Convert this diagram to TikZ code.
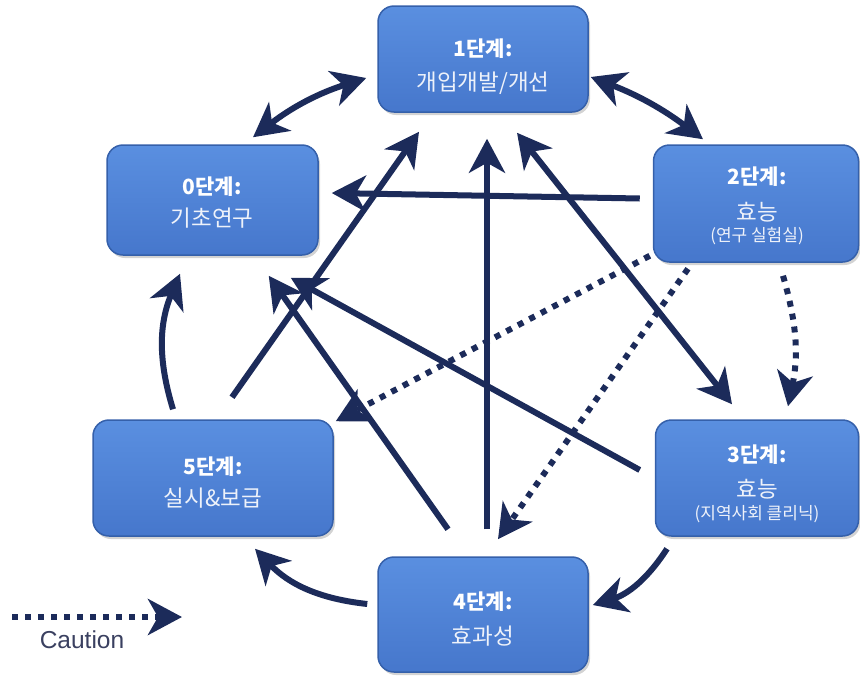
\documentclass[tikz,border=0pt]{standalone}
\usepackage{fontspec}
\newfontfamily\kr{Noto Sans CJK KR}
\newfontfamily\lsans{Liberation Sans}
\usetikzlibrary{arrows.meta,calc,shadows}
\definecolor{navy}{HTML}{1C2B5A}
\definecolor{boxfill}{HTML}{4677CC}
\definecolor{boxtop}{HTML}{5A8FE0}
\definecolor{boxedge}{HTML}{3560AA}
\definecolor{txt}{HTML}{EEF2FA}
\definecolor{captxt}{HTML}{3A4060}
\begin{document}
\begin{tikzpicture}[x=1pt,y=-1pt,
  stage/.style={draw=boxedge, line width=1.5pt, rounded corners=16pt,
    top color=boxtop, bottom color=boxfill,
    drop shadow={shadow xshift=2pt,shadow yshift=-3pt,opacity=0.35},
    inner sep=0pt},
  ttl/.style={inner sep=0pt, text=white, font=\kr\bfseries\fontsize{21}{24}\selectfont},
  mtx/.style={inner sep=0pt, text=txt, font=\kr\fontsize{22.5}{26}\selectfont},
  stx/.style={inner sep=0pt, text=txt, font=\kr\fontsize{17}{20}\selectfont},
  tip/.tip={Stealth[length=34pt,width=36pt,inset=10pt]},
  arr/.style={draw=navy, line width=6pt, -tip},
  darr/.style={draw=navy, line width=6pt, tip-tip},
  dotarr/.style={arr, dash pattern=on 6pt off 7pt}]
\useasboundingbox (0,0) rectangle (860,678);

% boxes
\node[stage, minimum width=210pt, minimum height=106pt] (b1) at (483,59) {};
\node[stage, minimum width=211pt, minimum height=110pt] (b0) at (212.5,200) {};
\node[stage, minimum width=205pt, minimum height=117pt] (b2) at (756,203.5) {};
\node[stage, minimum width=240pt, minimum height=116pt] (b5) at (213,478) {};
\node[stage, minimum width=203pt, minimum height=116pt] (b3) at (757,478) {};
\node[stage, minimum width=210pt, minimum height=115pt] (b4) at (483,614.5) {};

% texts
\node[ttl] (t1) at (483,49) {1단계:};
\node[mtx] (m1) at (483,83) {개입개발/개선};
\node[ttl] (t0) at (212,187) {0단계:};
\node[mtx] (m0) at (212,218) {기초연구};
\node[ttl] (t2) at (757,177) {2단계:};
\node[mtx] (m2) at (757,212) {효능};
\node[stx] (s2) at (757,236) {(연구 실험실)};
\node[ttl] (t3) at (757,455) {3단계:};
\node[mtx] (m3) at (757,489) {효능};
\node[stx] (s3) at (757,514) {(지역사회 클리닉)};
\node[ttl] (t5) at (213,467) {5단계:};
\node[mtx] (m5) at (213,498) {실시\&보급};
\node[ttl] (t4) at (483,602) {4단계:};
\node[mtx] (m4) at (483,636) {효과성};

% connectors
\draw[darr] ($(b0.north)+(40.5,-7)$) to[bend left=10] ($(b1.west)+(-11,19)$);
\draw[darr] ($(b1.east)+(2,18)$) to[bend left=8] ($(b2.north)+(-53,-5)$);
\draw[arr] ($(b2.west)+(-13,-5)$) -- ($(b0.east)+(13,-7)$);
\draw[arr] ($(b3.west)+(-15,-8)$) -- ($(b0.south east)+(-28,22)$);
\draw[arr] ($(b4.north)+(-35,-27)$) -- ($(b0.south east)+(-50,20)$);
\draw[arr] ($(b5.north)+(19,-22)$) -- ($(b1.south)+(-64,19)$);
\draw[arr] ($(b4.north)+(4,-27)$) -- ($(b1.south)+(4,26)$);
\draw[darr] ($(b1.south)+(34,20)$) -- ($(b3.north)+(-25,-15)$);
\draw[dotarr] ($(b2.south west)+(-3,-7)$) -- ($(b5.north east)+(2,2)$);
\draw[dotarr] ($(b2.south)+(-68,6)$) -- ($(b4.north)+(15,-17)$);
\draw[dotarr] ($(b2.south)+(27,13)$) to[bend left=14] ($(b3.north)+(31,-13)$);
\draw[arr] ($(b3.south)+(-90,12)$) to[bend left=20] ($(b4.east)+(4,-9.5)$);
\draw[arr] ($(b4.west)+(-10,-10.5)$) to[bend left=20] ($(b5.south)+(42,12)$);
\draw[arr] ($(b5.north)+(-40,-10)$) to[bend left=20] ($(b0.south)+(-32.5,18)$);

% legend
\coordinate (l1) at (12,617);
\coordinate (l2) at (182,617);
\draw[dotarr] (l1) -- (l2);
\node[inner sep=0pt, text=captxt, font=\lsans\fontsize{24.5}{28}\selectfont] (cap) at (82,640) {Caution};
\end{tikzpicture}
\end{document}
